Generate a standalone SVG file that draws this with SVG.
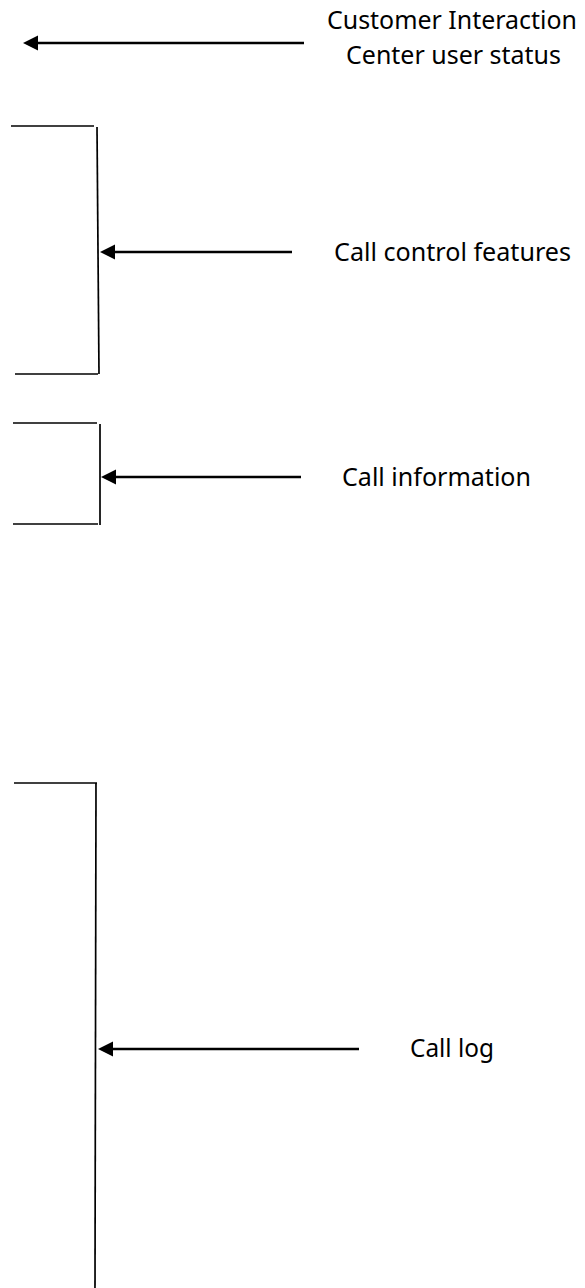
<svg xmlns="http://www.w3.org/2000/svg" width="585" height="1288" viewBox="0 0 585 1288">
  <style>
    .bg { fill: #ffffff; }
    .bracket { stroke: #000000; stroke-width: 1.7; fill: none; }
    .arrow { stroke: #000000; stroke-width: 2.7; fill: none; }
    .label { font-family: "Noto Sans", "Open Sans", "Liberation Sans", sans-serif; font-size: 25.5px; fill: #000000; }
  </style>
  <defs>
    <marker id="head" markerUnits="userSpaceOnUse" markerWidth="16" markerHeight="16" refX="1" refY="7.5" orient="auto">
      <path d="M0,0 L15,7.5 L0,15 z" fill="#000000"/>
    </marker>
  </defs>
  <rect class="bg" x="0" y="0" width="585" height="1288"/>

  <!-- bracket regions on the left edge -->
  <g id="region-call-control">
    <line class="bracket" x1="11" y1="126" x2="94" y2="126"/>
    <line class="bracket" x1="97" y1="127" x2="99" y2="374"/>
    <line class="bracket" x1="15" y1="374" x2="98" y2="374"/>
  </g>
  <g id="region-call-information">
    <line class="bracket" x1="13" y1="423" x2="97" y2="423"/>
    <line class="bracket" x1="100" y1="424" x2="100" y2="525"/>
    <line class="bracket" x1="13" y1="524" x2="98" y2="524"/>
  </g>
  <g id="region-call-log">
    <line class="bracket" x1="14" y1="783" x2="97" y2="783"/>
    <line class="bracket" x1="96" y1="783" x2="95" y2="1288"/>
  </g>

  <!-- labels -->
  <g id="label-user-status">
    <text class="label" x="327" y="29" textLength="250" lengthAdjust="spacingAndGlyphs">Customer Interaction</text>
    <text class="label" x="346" y="64" textLength="215" lengthAdjust="spacingAndGlyphs">Center user status</text>
  </g>
  <g id="label-call-control">
    <text class="label" x="334" y="261" textLength="237" lengthAdjust="spacingAndGlyphs">Call control features</text>
  </g>
  <g id="label-call-information">
    <text class="label" x="342" y="486" textLength="189" lengthAdjust="spacingAndGlyphs">Call information</text>
  </g>
  <g id="label-call-log">
    <text class="label" x="410" y="1057" textLength="84" lengthAdjust="spacingAndGlyphs">Call log</text>
  </g>

  <!-- connectors: label to region -->
  <g id="connectors">
    <line class="arrow" x1="304" y1="43" x2="37" y2="43" marker-end="url(#head)"/>
    <line class="arrow" x1="292" y1="252" x2="114" y2="252" marker-end="url(#head)"/>
    <line class="arrow" x1="301" y1="477" x2="115" y2="477" marker-end="url(#head)"/>
    <line class="arrow" x1="359" y1="1049" x2="112" y2="1049" marker-end="url(#head)"/>
  </g>
</svg>
